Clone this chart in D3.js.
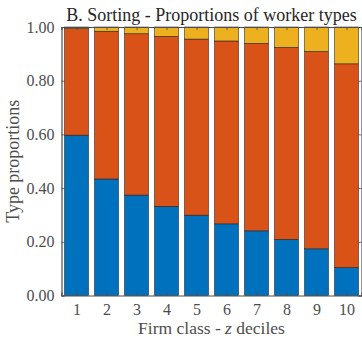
<!DOCTYPE html>
<html>
<head>
<meta charset="utf-8">
<script src="https://cdn.jsdelivr.net/npm/d3@7"></script>
<style>
  html, body { margin: 0; padding: 0; background: #fff; }
  svg { display: block; }
  text { font-family: "Liberation Serif", "DejaVu Serif", serif; }
</style>
</head>
<body>
<svg id="chart" width="362" height="338"></svg>
<script>
// Firm classes (z deciles) and the share of each worker type within them
const deciles = [1, 2, 3, 4, 5, 6, 7, 8, 9, 10];
const typeLow  = [0.597, 0.434, 0.374, 0.332, 0.299, 0.267, 0.241, 0.209, 0.174, 0.104];
const typeMid  = [0.397, 0.550, 0.601, 0.633, 0.656, 0.681, 0.698, 0.715, 0.735, 0.759];
const typeHigh = [0.006, 0.016, 0.025, 0.035, 0.045, 0.052, 0.061, 0.076, 0.091, 0.137];
const yTicks = [0, 0.2, 0.4, 0.6, 0.8, 1.0];
const seriesColors = ["#0072BD", "#D95319", "#EDB120"];

const svg = d3.select("#chart");
const margin = { left: 61.5, right: 0.5, top: 27, bottom: 42.5 };
const W = 362, H = 338;

const x = d3.scaleLinear().domain([0.5, 10.5]).range([margin.left, W - margin.right]);
const y = d3.scaleLinear().domain([0, 1]).range([H - margin.bottom, margin.top]);

const rows = deciles.map((d, i) => ({ decile: d, low: typeLow[i], mid: typeMid[i], high: typeHigh[i] }));
const stack = d3.stack().keys(["low", "mid", "high"]);
const layers = stack(rows);

const barW = x(0.8) - x(0);
const axisColor = "#4d4d4d";

// stacked bars
svg.append("g").selectAll("g")
  .data(layers)
  .join("g")
  .attr("fill", (d, i) => seriesColors[i])
  .selectAll("rect")
  .data(d => d)
  .join("rect")
  .attr("x", d => x(d.data.decile) - barW / 2)
  .attr("width", barW)
  .attr("y", d => y(d[1]))
  .attr("height", d => y(d[0]) - y(d[1]))
  .attr("stroke", "#1a1a1a")
  .attr("stroke-opacity", 0.75)
  .attr("stroke-width", 0.7);

// axes
const fmt = d3.format(".2f");
const gx = svg.append("g")
  .attr("transform", `translate(0,${y(0)})`)
  .call(d3.axisBottom(x).tickValues(deciles).tickSize(-3).tickPadding(8).tickFormat(d3.format("d")));
const gxTop = svg.append("g")
  .attr("transform", `translate(0,${y(1)})`)
  .call(d3.axisTop(x).tickValues(deciles).tickSize(-3).tickFormat(""));
const gy = svg.append("g")
  .attr("transform", `translate(${x(0.5)},0)`)
  .call(d3.axisLeft(y).tickValues(yTicks).tickSize(-3).tickPadding(7).tickFormat(fmt));
const gyRight = svg.append("g")
  .attr("transform", `translate(${x(10.5)},0)`)
  .call(d3.axisRight(y).tickValues(yTicks).tickSize(-3).tickFormat(""));

[gx, gxTop, gy, gyRight].forEach(g => {
  g.selectAll(".domain").attr("stroke", axisColor).attr("stroke-width", 1.2);
  g.selectAll(".tick line").attr("stroke", axisColor).attr("stroke-width", 0.8);
  g.selectAll("text").attr("fill", axisColor).attr("font-size", 16)
    .attr("font-family", "'Liberation Serif', serif");
});

// title and axis labels
svg.append("text")
  .attr("x", (x(0.5) + x(10.5)) / 2)
  .attr("y", 21)
  .attr("text-anchor", "middle")
  .attr("font-size", 18)
  .attr("fill", "#262626")
  .text("B. Sorting - Proportions of worker types");

const xl = svg.append("text")
  .attr("x", (x(0.5) + x(10.5)) / 2)
  .attr("y", 334)
  .attr("text-anchor", "middle")
  .attr("font-size", 17.5)
  .attr("fill", axisColor);
xl.append("tspan").text("Firm class - ");
xl.append("tspan").attr("font-style", "italic").text("z");
xl.append("tspan").text(" deciles");

svg.append("text")
  .attr("transform", `translate(19,${(y(0) + y(1)) / 2}) rotate(-90)`)
  .attr("text-anchor", "middle")
  .attr("font-size", 18)
  .attr("fill", axisColor)
  .text("Type proportions");
</script>
</body>
</html>
